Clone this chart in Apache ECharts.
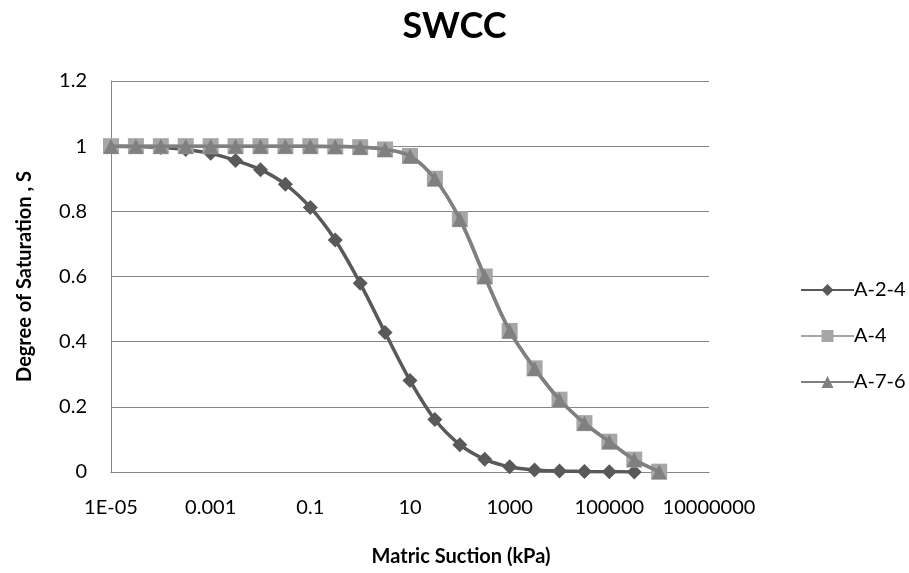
<!DOCTYPE html>
<html>
<head>
<meta charset="utf-8">
<script src="https://cdn.jsdelivr.net/npm/echarts@6/dist/echarts.min.js"></script>
<style>html,body{margin:0;padding:0;background:#fff}#c{width:909px;height:573px}</style>
</head>
<body>
<div id="c"></div>
<script>
var suction = [0.00001, 0.0000316, 0.0001, 0.000316, 0.001, 0.00316, 0.01, 0.0316, 0.1, 0.316, 1, 3.16, 10, 31.6, 100, 316, 1000, 3162, 10000, 31623, 100000, 316228, 1000000];
var satA24 = [1.0, 0.999, 0.996, 0.99, 0.978, 0.956, 0.928, 0.883, 0.812, 0.712, 0.579, 0.428, 0.281, 0.161, 0.084, 0.039, 0.016, 0.006, 0.003, 0.0013, 0.0006, 0.0002];
var satA4  = [1, 1, 1, 1, 1, 1, 1, 1, 1, 0.999, 0.997, 0.99, 0.97, 0.90, 0.776, 0.60, 0.433, 0.318, 0.222, 0.15, 0.093, 0.038, 0.001];
var satA76 = [1, 1, 1, 1, 1, 1, 1, 1, 1, 0.999, 0.997, 0.99, 0.97, 0.90, 0.776, 0.60, 0.433, 0.318, 0.222, 0.15, 0.093, 0.038, 0.001];
var seriesNames = ['A-2-4', 'A-4', 'A-7-6'];
var xTickValues = [0.00001, 0.001, 0.1, 10, 1000, 100000, 10000000];
var xTickLabels = ['1E-05', '0.001', '0.1', '10', '1000', '100000', '10000000'];

function pairs(ys) { return ys.map(function (y, i) { return [suction[i], y]; }); }
var font = 'Lato, "Open Sans", sans-serif';
var chart = echarts.init(document.getElementById('c'));
chart.setOption({
  backgroundColor: '#fff',
  animation: false,
  title: { text: 'SWCC', left: 'center', top: 3, textStyle: { fontFamily: font, fontSize: 36, fontWeight: 'bold', color: '#000' } },
  legend: {
    orient: 'vertical', left: 795, top: 275, itemGap: 26, itemWidth: 53, itemHeight: 15,
    textStyle: { fontFamily: font, fontSize: 20, color: '#000', padding: [0, 0, 0, -5] },
    data: seriesNames
  },
  grid: { left: 111, right: 200, top: 81, bottom: 101 },
  xAxis: {
    type: 'log', logBase: 10, min: 0.00001, max: 10000000,
    name: 'Matric Suction (kPa)', nameLocation: 'middle', nameGap: 75,
    nameTextStyle: { fontFamily: font, fontSize: 20, fontWeight: 'bold', color: '#000', padding: [0, 0, 0, 102] },
    axisLine: { show: true, lineStyle: { color: '#868686', width: 1 } },
    axisTick: { show: false },
    splitLine: { show: false },
    minorTick: { show: false },
    axisLabel: {
      customValues: xTickValues, margin: 26, fontFamily: font, fontSize: 20, color: '#000',
      formatter: function (v) {
        var e = Math.round(Math.log10(v));
        for (var i = 0; i < xTickValues.length; i++) {
          if (Math.round(Math.log10(xTickValues[i])) === e) return xTickLabels[i];
        }
        return '';
      }
    }
  },
  yAxis: {
    type: 'value', min: 0, max: 1.2, interval: 0.2,
    name: 'Degree of Saturation , S', nameLocation: 'middle', nameGap: 76,
    nameTextStyle: { fontFamily: font, fontSize: 20, fontWeight: 'bold', color: '#000' },
    axisLine: { show: true, lineStyle: { color: '#868686', width: 1 } },
    axisTick: { show: false },
    splitLine: { show: true, lineStyle: { color: '#868686', width: 1 } },
    axisLabel: { margin: 24, fontFamily: font, fontSize: 20, color: '#000',
      formatter: function (v) { return String(Math.round(v * 10) / 10); } }
  },
  series: [
    { name: seriesNames[0], type: 'line', data: pairs(satA24), smooth: 0.35, symbol: 'diamond', symbolSize: 15,
      itemStyle: { color: '#595959' }, lineStyle: { color: '#595959', width: 3.5 }, z: 2 },
    { name: seriesNames[1], type: 'line', data: pairs(satA4), smooth: 0.35, symbol: 'rect', symbolSize: 16,
      itemStyle: { color: '#a6a6a6' }, lineStyle: { color: '#a6a6a6', width: 3.5 }, z: 3 },
    { name: seriesNames[2], type: 'line', data: pairs(satA76), smooth: 0.35, symbol: 'triangle', symbolSize: 15,
      itemStyle: { color: '#808080' }, lineStyle: { color: '#808080', width: 3.5 }, z: 4 }
  ]
});
</script>
</body>
</html>
